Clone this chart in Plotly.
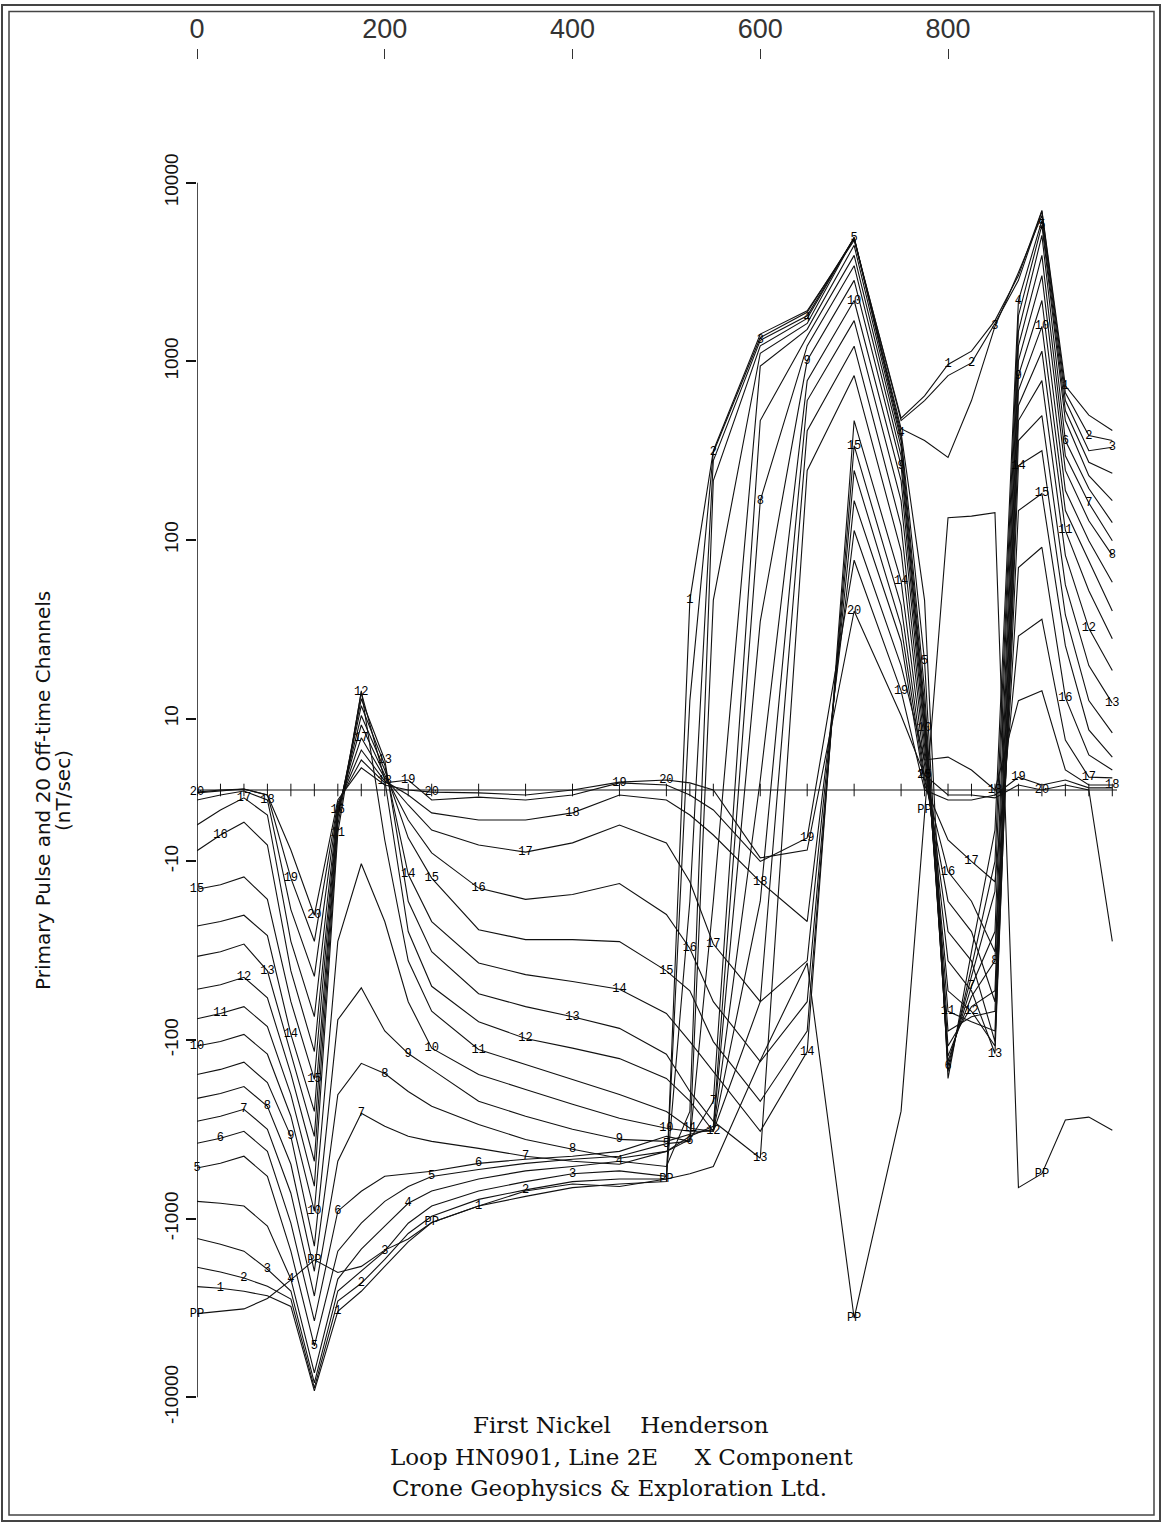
import math
import plotly.graph_objects as go

# Station positions (x, metres along line)
STATIONS = [0, 25, 50, 75, 100, 125, 150, 175, 200, 225, 250, 300, 350, 400, 450, 500,
            525, 550, 600, 650, 700, 750, 775, 800, 825, 850, 875, 900, 925, 950, 975]

# Channel readings in nT/sec (PP = primary pulse, 1..20 = off-time channels)
PP = [-3400, -3300, -3200, -2800, -2200, -1700, -2000, -1850, -1500, -1300, -1050, -850, -700, -640, -660, -600,
      -560, -510, -130, -37, -3600, -250, -2.8, 133, 136, 142, -670, -560, -280, -270, -320]
CH1 = [-2400, -2450, -2550, -2700, -3100, -9200, -3300, -2550, -1850, -1350, -1050, -850, -750, -670, -640, -620,
       46, 316, 1420, 1920, 4750, 480, 640, 960, 1140, 1690, 3020, 7000, 730, 500, 410]
CH2 = [-1870, -1990, -2150, -2390, -2820, -8850, -2890, -2300, -1690, -1210, -970, -780, -690, -620, -600, -600,
       12.6, 309, 1360, 1880, 4870, 466, 603, 832, 980, 1630, 2840, 6920, 667, 384, 360]
CH3 = [-1290, -1390, -1520, -1920, -2540, -8300, -2540, -1970, -1520, -1060, -850, -700, -620, -560, -540, -580,
       -16.7, 278, 1310, 1800, 4930, 420, 360, 290, 603, 1570, 3140, 6560, 603, 316, 330]
CH4 = [-800, -820, -850, -1100, -2180, -7300, -2180, -1480, -1100, -820, -700, -600, -540, -510, -477, -510,
       -251, 215, 1220, 1740, 4930, 399, 46, -164, -32, -5.6, 2190, 6150, 530, 272, 236]
CH5 = [-520, -490, -447, -580, -1520, -5160, -1520, -1060, -800, -660, -580, -530, -490, -465, -447, -380,
       -369, 46, 1110, 1630, 4930, 378, 21, -150, -39, -10, 1800, 5780, 466, 229, 166]
CH6 = [-378, -355, -324, -420, -1060, -3740, -908, -702, -579, -558, -543, -490, -465, -447, -420, -346,
       -369, -16.7, 940, 1510, 4460, 360, 14.3, -140, -44, -14.7, 1470, 5070, 360, 194, 125]
CH7 = [-285, -267, -244, -316, -720, -2710, -477, -257, -304, -346, -369, -404, -447, -477, -496, -420,
       -360, -220, 466, 1380, 3920, 332, 11.8, -132, -50, -24.7, 1220, 3920, 296, 161, 99]
CH8 = [-212, -199, -182, -235, -496, -1970, -202, -135, -154, -194, -235, -297, -360, -409, -459, -420,
       -346, -304, 166, 1220, 3430, 296, 10.4, -123, -57, -36, 1010, 3020, 245, 128, 82]
CH9 = [-156, -146, -133, -173, -346, -1425, -77, -51, -89, -119, -146, -220, -267, -316, -360, -369,
       -337, -316, 35, 1010, 2840, 261, 9.8, -108, -65, -53, 832, 2190, 189, 99, 58]
CH10 = [-108, -102, -93, -120, -267, -908, -28, -10.3, -21.7, -61, -111, -156, -189, -229, -274, -312,
        -324, -324, 1.4, 780, 2190, 215, 8.7, -89, -74, -69, 686, 1570, 146, 77, 40]
CH11 = [-76, -71, -65, -84, -202, -658, -6.0, 14.3, -7.0, -36, -69, -113, -137, -166, -202, -251,
        -312, -324, -16.7, 603, 1690, 166, 7.7, -69, -79, -89, 566, 1140, 113, 52, 28]
CH12 = [-52, -49, -44.5, -58, -154, -477, -4.9, 14.0, 1.4, -24.7, -50, -79, -98, -111, -127, -164,
        -220, -324, -61, 409, 1216, 120, 6.3, -53, -69, -108, 466, 780, 82, 32, 18.6]
CH13 = [-34, -32, -29, -41, -119, -346, -3.9, 12.9, 4.2, -16.7, -32, -55, -65, -74, -86, -120,
        -194, -285, -459, 245, 832, 87, 4.9, -36, -53, -119, 360, 497, 56, 19.8, 12.2]
CH14 = [-23, -21.7, -20, -26, -93, -251, -3.5, 11.8, 3.5, -11.8, -21.7, -37, -43, -47, -52, -71,
        -102, -150, -324, -116, 466, 59, 3.5, -24.7, -36, -102, 261, 316, 38, 12.6, 8.0]
CH15 = [-14.3, -13.5, -12.2, -16.3, -61, -166, -3.1, 10.4, 2.8, -6.7, -12.4, -24.1, -27.4, -27.4, -28.1, -41,
        -53, -102, -220, -89, 337, 43, 2.1, -16.7, -24.7, -61, 146, 182, 25.6, 8.4, 4.6]
CH16 = [-8.5, -6.3, -4.5, -7.7, -41, -116, -2.8, 9.1, 2.1, -4.2, -8.8, -14.1, -16.3, -15.3, -13.3, -19.8,
        -30.7, -61, -132, -61, 245, 33, 1.4, -11.4, -16.7, -32, 70, 91, 13.1, 4.9, 2.8]
CH17 = [-4.9, -2.8, -1.1, -3.5, -28, -74, -2.5, 7.3, 1.7, -2.1, -5.6, -7.7, -8.7, -7.4, -4.9, -7.4,
        -13, -29, -61, -36, 166, 27, 0.7, -7.0, -10, -13, 29, 36, 7.0, 1.8, 1.7]
CH18 = [-1.4, -0.7, -0.14, -1.4, -18.6, -44, -2.1, 5.6, 1.26, -0.7, -3.2, -4.2, -4.2, -3.2, -0.7, -1.4,
        -3.5, -6.3, -13, -21.7, 113, 19.8, 4.2, 4.6, 2.8, 0, 12.6, 14.3, 2.8, 0.7, 0.7]
CH19 = [-0.4, -0.14, 0.14, -0.7, -12.4, -28, -1.8, 4.2, 1.0, 1.4, -1.4, -1.0, -1.4, -0.7, 1.0, 0.7,
        -0.7, -2.8, -10, -6.7, 77, 14.3, 0, -1.4, -1.4, -0.7, 1.8, 0.7, 1.4, 0.3, 0.3]
CH20 = [-0.3, 0, 0.14, -0.7, -8.4, -20, -1.4, 3.1, 0.7, 0, -0.3, -0.4, -0.7, 0, 1.1, 1.4,
        1.0, 0, -9.5, -8.4, 40, 10.4, 2.1, -0.7, -0.7, -1.1, 0.7, 0, 0.7, 0, -28]

CHANNEL_NAMES = ["PP"] + [str(i) for i in range(1, 21)]
CHANNEL_DATA = [PP, CH1, CH2, CH3, CH4, CH5, CH6, CH7, CH8, CH9, CH10,
                CH11, CH12, CH13, CH14, CH15, CH16, CH17, CH18, CH19, CH20]

X_TICKS = [0, 200, 400, 600, 800]
Y_TICK_VALUES = [10000, 1000, 100, 10, -10, -100, -1000, -10000]
Y_TICK_TEXT = ["10000", "1000", "100", "10", "-10", "-100", "-1000", "-10000"]

# label cycle group per station (which channels get a number label there)
LABEL_GROUP = [0, 1, 2, 3, 4, 0, 1, 2, 3, 4, 0, 1, 2, 3, 4, 0, 1, 2, 3, 4, 0,
               4, 0, 1, 2, 3, 4, 0, 1, 2, 3]


def tr(v):
    """Crone-style log/linear scale: linear within +-10, logarithmic beyond."""
    a = abs(v)
    if a <= 10:
        return 0.04 * v
    return math.copysign(0.4 + math.log10(a / 10.0), v)


W, H = 1162, 1524
ML, MR, MT, MB = 197, 45, 60, 126
PW, PH = W - ML - MR, H - MT - MB


def px(xpix):
    return (xpix - ML) / PW


def py(ypix):
    return (H - MB - ypix) / PH


fig = go.Figure()

LINE = dict(color="#111111", width=1.1)
for k, (name, vals) in enumerate(zip(CHANNEL_NAMES, CHANNEL_DATA)):
    labels = [name if LABEL_GROUP[i] == (k % 5) else "" for i in range(len(STATIONS))]
    fig.add_trace(go.Scatter(
        x=STATIONS, y=[tr(v) for v in vals], mode="lines+text",
        text=labels, textposition="middle center",
        textfont=dict(family="Liberation Mono", size=12, color="#000000"),
        line=LINE, hoverinfo="skip", cliponaxis=False))

# station ticks on the zero line
fig.add_trace(go.Scatter(
    x=STATIONS, y=[0] * len(STATIONS), mode="markers",
    marker=dict(symbol="line-ns", size=9, line=dict(color="#111111", width=1)),
    hoverinfo="skip"))

shapes = [
    # zero line
    dict(type="line", xref="x", yref="y", x0=0, x1=980, y0=0, y1=0,
         line=dict(color="#111111", width=1.1)),
    # y axis line
    dict(type="line", xref="x", yref="y", x0=0, x1=0, y0=tr(-10000), y1=tr(10000),
         line=dict(color="#111111", width=1.5)),
    # double page frame
    dict(type="rect", xref="paper", yref="paper", x0=px(2), x1=px(1160), y0=py(5), y1=py(1521),
         line=dict(color="#444444", width=2)),
    dict(type="rect", xref="paper", yref="paper", x0=px(9), x1=px(1154), y0=py(11.5), y1=py(1515),
         line=dict(color="#444444", width=1.5)),
]

TITLE_FONT = dict(family="DejaVu Serif", size=23, color="#111111")
YT_FONT = dict(family="DejaVu Sans", size=20, color="#111111")
annotations = [
    dict(xref="paper", yref="paper", x=px(43), y=py(791), xanchor="center", yanchor="middle",
         textangle=-90, showarrow=False,
         text="Primary Pulse and 20 Off-time Channels", font=YT_FONT),
    dict(xref="paper", yref="paper", x=px(63), y=py(791), xanchor="center", yanchor="middle",
         textangle=-90, showarrow=False, text="(nT/sec)", font=YT_FONT),
    dict(xref="paper", yref="paper", x=px(621), y=py(1425), xanchor="center", yanchor="middle",
         showarrow=False, text="First Nickel\u00a0\u00a0\u00a0 Henderson", font=TITLE_FONT),
    dict(xref="paper", yref="paper", x=px(621), y=py(1457), xanchor="center", yanchor="middle",
         showarrow=False, text="Loop HN0901, Line 2E\u00a0\u00a0\u00a0\u00a0 X Component", font=TITLE_FONT),
    dict(xref="paper", yref="paper", x=px(609), y=py(1488), xanchor="center", yanchor="middle",
         showarrow=False, text="Crone Geophysics &amp; Exploration Ltd.", font=TITLE_FONT),
]

fig.update_layout(
    width=W, height=H, margin=dict(l=ML, r=MR, t=MT, b=MB),
    paper_bgcolor="white", plot_bgcolor="white", showlegend=False,
    shapes=shapes, annotations=annotations,
    xaxis=dict(range=[0, 980], side="top", showgrid=False, zeroline=False, showline=False,
               tickmode="array", tickvals=X_TICKS, ticktext=[str(t) for t in X_TICKS],
               ticks="outside", ticklen=10, tickwidth=1, tickcolor="#333333",
               tickfont=dict(family="Liberation Sans", size=27, color="#333333")),
    yaxis=dict(range=[tr(-10000) - 0.004, 4.087], showgrid=False, zeroline=False, showline=False,
               tickmode="array", tickvals=[tr(v) for v in Y_TICK_VALUES], ticktext=Y_TICK_TEXT,
               ticks="outside", ticklen=10, tickwidth=1.5, tickcolor="#111111", tickangle=-90,
               tickfont=dict(family="Liberation Sans", size=19, color="#111111")),
)

fig.write_html("out.html")
